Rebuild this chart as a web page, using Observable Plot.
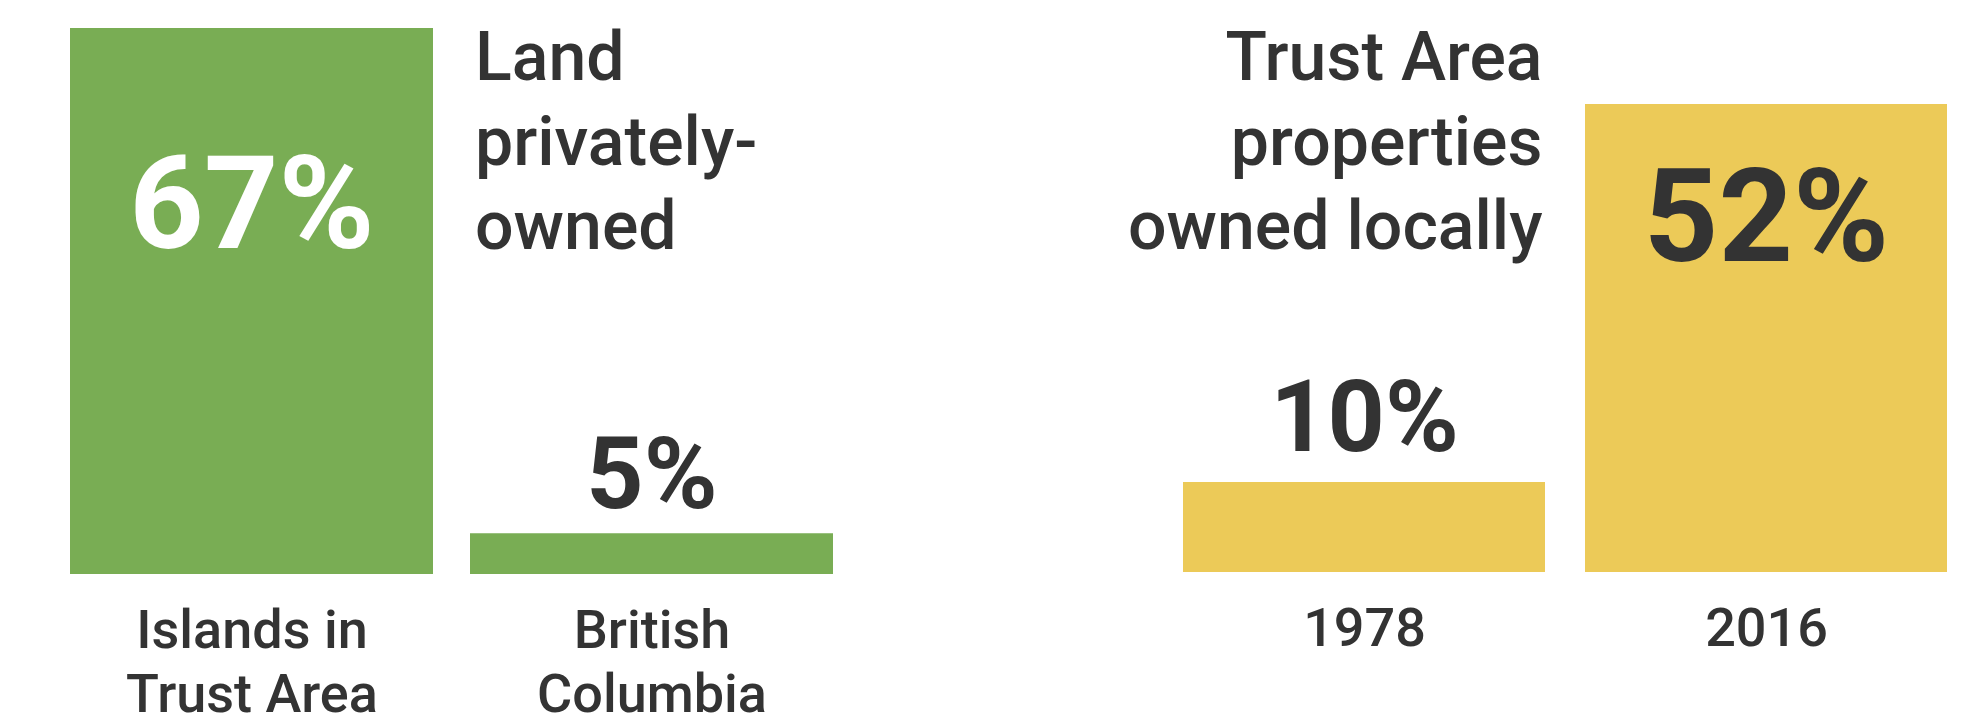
<!DOCTYPE html>
<html>
<head>
<meta charset="utf-8">
<script src="https://cdn.jsdelivr.net/npm/d3@7"></script>
<script src="https://cdn.jsdelivr.net/npm/@observablehq/plot@0.6"></script>
<style>
  html, body { margin: 0; padding: 0; background: #ffffff; }
  #chart { display: flex; width: 1971px; height: 722px; }
  #chart svg { display: block; }
</style>
</head>
<body>
<div id="chart"></div>
<script>
// ---- Data ----
const landCategories = ["Islands in Trust Area", "British Columbia"];
const landValues = [67, 5];
const landTickLabels = ["Islands in\nTrust Area", "British\nColumbia"];
const landTitle = "Land\nprivately-\nowned";

const ownerCategories = ["1978", "2016"];
const ownerValues = [10, 52];
const ownerTickLabels = ["1978", "2016"];
const ownerTitle = "Trust Area\nproperties\nowned locally";

const TEXT = "#333333";

function panel(o) {
  const data = o.cats.map((c, i) => ({cat: c, value: o.vals[i], tick: o.ticks[i]}));
  const max = d3.max(o.vals);
  const inside = data.filter(d => d.value === max);
  const outside = data.filter(d => d.value !== max);
  const tickMap = new Map(data.map(d => [d.cat, d.tick]));
  return Plot.plot({
    width: o.width,
    height: 722,
    marginLeft: o.ml,
    marginRight: o.mr,
    marginTop: o.mt,
    marginBottom: o.mb,
    style: {fontFamily: "Roboto, sans-serif", color: TEXT, background: "transparent", overflow: "visible"},
    x: {domain: o.cats, paddingInner: o.padIn, paddingOuter: 0},
    y: {domain: [0, max], axis: null},
    marks: [
      Plot.barY(data, {x: "cat", y: "value", fill: o.color}),
      Plot.axisX({
        tickSize: 0, tickPadding: 27, fontSize: 54, fontWeight: 500,
        tickFormat: d => tickMap.get(d), lineHeight: 1.2, fill: TEXT, label: null
      }),
      Plot.text(inside, {
        x: "cat", y: "value", text: d => d.value + "%", fill: o.insideFill,
        fontSize: 130, fontWeight: "bold", dy: o.insideDy
      }),
      Plot.text(outside, {
        x: "cat", y: "value", text: d => d.value + "%", fill: TEXT,
        fontSize: 100, fontWeight: "bold", dy: o.outsideDy
      }),
      Plot.text([o.title], {
        x: [o.titleCat], text: d => d, frameAnchor: "top", lineAnchor: "top",
        textAnchor: o.titleAnchor, fontSize: 68, fontWeight: 500, lineHeight: 1.24,
        fill: TEXT, dx: o.titleDx, dy: o.titleDy
      })
    ]
  });
}

const left = panel({
  cats: landCategories, vals: landValues, ticks: landTickLabels, title: landTitle,
  color: "#79ad54", width: 985, ml: 69, mr: 151, mt: 28, mb: 148, padIn: 0.092,
  insideDy: 178, insideFill: "#ffffff", outsideDy: -58,
  titleCat: landCategories[1], titleAnchor: "start", titleDx: -177, titleDy: -8
});

const right = panel({
  cats: ownerCategories, vals: ownerValues, ticks: ownerTickLabels, title: ownerTitle,
  color: "#ecca58", width: 986, ml: 197, mr: 23, mt: 104, mb: 150, padIn: 0.099,
  insideDy: 115, insideFill: TEXT, outsideDy: -64,
  titleCat: ownerCategories[0], titleAnchor: "end", titleDx: 178, titleDy: -84
});

document.getElementById("chart").append(left, right);
</script>
</body>
</html>
